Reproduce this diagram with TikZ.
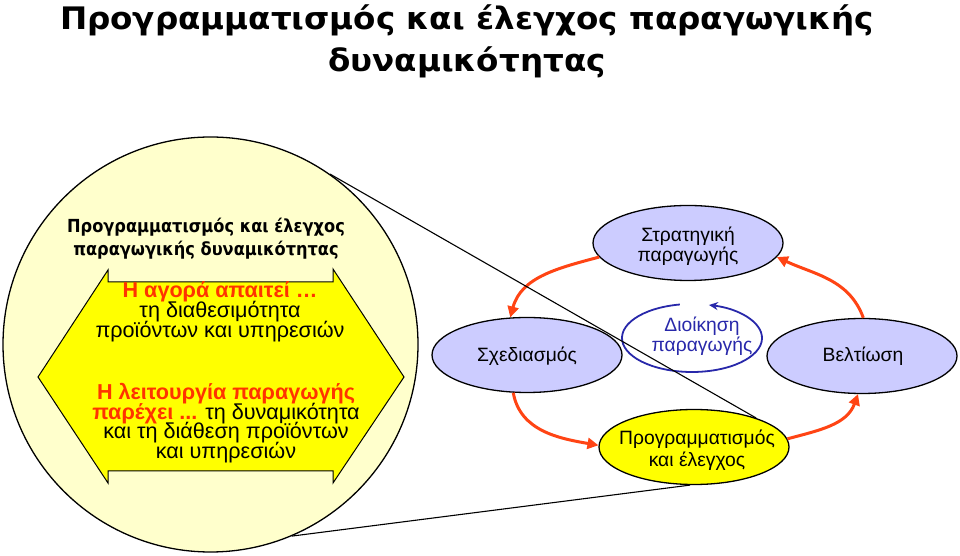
\documentclass[tikz,border=0pt]{standalone}
\usepackage{fontspec}
\setmainfont{Liberation Sans}
\newfontfamily\tahb[FakeStretch=0.9]{DejaVu Sans}
\newfontfamily\tahw[FakeStretch=1.05]{DejaVu Sans}
\usetikzlibrary{shapes.geometric,arrows.meta}
\definecolor{cyellow}{RGB}{255,255,204}
\definecolor{hyellow}{RGB}{255,255,0}
\definecolor{lav}{RGB}{204,204,255}
\definecolor{redo}{RGB}{255,68,20}
\definecolor{redt}{RGB}{255,51,0}
\definecolor{bluet}{RGB}{40,40,170}
\tikzset{
  x=1pt, y=1pt,
  oval/.style={ellipse, draw=black, line width=1.3pt, fill=lav, minimum width=190pt, minimum height=75pt, inner sep=0pt},
  otext/.style={anchor=base, font=\fontsize{19.3}{22}\selectfont, inner sep=0pt},
  itext/.style={anchor=base, font=\fontsize{21.6}{20}\selectfont, inner sep=0pt},
  rtext/.style={anchor=base, text=redt, font=\bfseries\fontsize{21.6}{20}\selectfont, inner sep=0pt},
  btext/.style={anchor=base, font=\tahb\bfseries\fontsize{18}{22}\selectfont, inner sep=0pt},
  ttext/.style={anchor=base, font=\tahw\bfseries\fontsize{31}{36}\selectfont, inner sep=0pt},
  redarrow/.style={draw=redo, line width=3pt, -{Triangle[length=11pt,width=11pt]}},
  zoomline/.style={draw=black, line width=1.1pt},
}
\begin{document}
\begin{tikzpicture}
\useasboundingbox (0,0) rectangle (960,556);
% title
\node[ttext] (t1) at (467,526) {Προγραμματισμός και έλεγχος παραγωγικής};
\node[ttext] (t2) at (467,484) {δυναμικότητας};
% big circle
\node[circle, draw=black, line width=1.3pt, fill=cyellow, minimum size=415pt, inner sep=0pt] (circ) at (210.5,211.5) {};
% double arrow
\draw[black, line width=1pt, fill=hyellow] (38,179) -- (108,286) -- (108,274) -- (333,274) -- (333,287) -- (404,179) -- (333,73) -- (333,85) -- (108,85) -- (108,73) -- cycle;
% circle texts
\node[btext] (c1) at (206,323) {Προγραμματισμός και έλεγχος};
\node[btext] (c2) at (206,300) {παραγωγικής δυναμικότητας};
\node[rtext] (a1) at (220,258) {Η αγορά απαιτεί …};
\node[itext] (a2) at (220,238) {τη διαθεσιμότητα};
\node[itext] (a3) at (220,218) {προϊόντων και υπηρεσιών};
\node[rtext] (b1) at (226,156) {Η λειτουργία παραγωγής};
\node[itext] (b2) at (226,136.5) {{\color{redt}\bfseries παρέχει ...} τη δυναμικότητα};
\node[itext] (b3) at (226,117) {και τη διάθεση προϊόντων};
\node[itext] (b4) at (226,97.5) {και υπηρεσιών};
% ellipses
\node[oval] (str) at (688,313) {};
\node[oval] (sch) at (527,201) {};
\node[oval] (bel) at (862,200) {};
\node[oval, fill=hyellow] (prog) at (694,109) {};
\node[otext] (strA) at (688,314) {Στρατηγική};
\node[otext] (strB) at (688,294) {παραγωγής};
\node[otext] (schA) at (527,194) {Σχεδιασμός};
\node[otext] (belA) at (863,194) {Βελτίωση};
\node[otext] (progA) at (697,111) {Προγραμματισμός};
\node[otext] (progB) at (697,89) {και έλεγχος};
\node[otext, text=bluet] (dioA) at (702,224) {Διοίκηση};
\node[otext, text=bluet] (dioB) at (702,204) {παραγωγής};
% blue loop
\coordinate (dioc) at (692,218);
\draw[bluet, line width=1.8pt, -{Stealth[length=9pt,width=8pt]}] ([shift={(100:70 and 34)}]dioc) arc[start angle=100, end angle=436, x radius=70, y radius=34];
% red arrows
\draw[redarrow] (str.189) to[out=195, in=75] (sch.114);
\draw[redarrow] (sch.250) to[out=-80, in=170] (prog.179);
\draw[redarrow] (prog.5) to[out=15, in=-110] (bel.264);
\draw[redarrow] (bel.88) to[out=110, in=-25] (str.-9);
% zoom lines
\draw[zoomline] (circ.55.3) -- (prog.25.5);
\draw[zoomline] (circ.-67.7) -- (prog.-96);
\end{tikzpicture}
\end{document}
